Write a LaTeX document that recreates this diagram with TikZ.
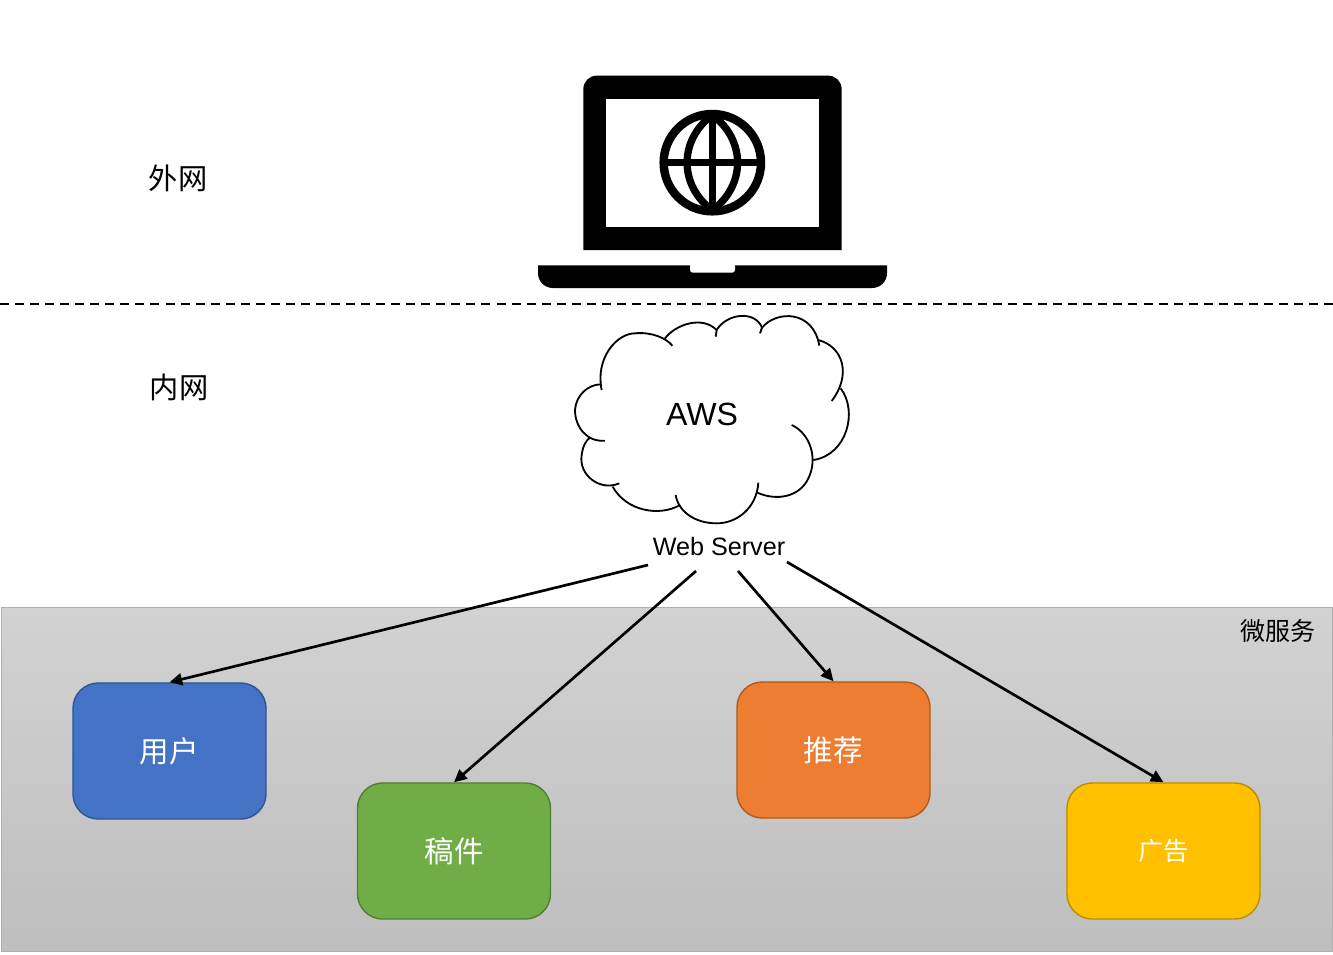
\documentclass[tikz,border=0pt]{standalone}
\usepackage{fontspec}
\usetikzlibrary{arrows.meta}
\setmainfont{Noto Sans CJK SC}
\newfontfamily\latinfont{Liberation Sans}
\tikzset{
  service/.style={draw, line width=1pt, rounded corners=18pt, minimum width=4.825cm, minimum height=3.4cm, text=white, font=\fontsize{21}{24}\selectfont},
  zone/.style={font=\fontsize{20.8}{24}\selectfont},
  link/.style={->, line width=1.9pt},
  puff/.style={line width=1.3pt}
}
\definecolor{userblue}{HTML}{4472C4}
\definecolor{userline}{HTML}{2F5597}
\definecolor{docgreen}{HTML}{70AD47}
\definecolor{docline}{HTML}{507E32}
\definecolor{recorange}{HTML}{ED7D31}
\definecolor{recline}{HTML}{AE5A21}
\definecolor{adyellow}{HTML}{FFC000}
\definecolor{adline}{HTML}{BC8C00}
\definecolor{bandtop}{HTML}{D2D2D2}
\definecolor{bandbottom}{HTML}{BEBEBE}
\definecolor{bandline}{HTML}{B0B0B0}
\begin{document}
\begin{tikzpicture}[>={Triangle[length=9pt,width=8.5pt]}, x=0.025cm, y=-0.025cm]
\useasboundingbox (0,0) rectangle (1333,954);

% band of services
\node[draw=bandline, line width=0.8pt, top color=bandtop, bottom color=bandbottom, minimum width=33.25cm, minimum height=8.6cm, outer sep=0pt] (band) at (667,779.5) {};
\node[font=\fontsize{17.8}{20}\selectfont, anchor=east] (micro) at (1320.5,631) {微服务};

\draw[dashed, line width=1pt, dash pattern=on 6.4pt off 4.3pt] (0,304) -- (1333,304);
\node[zone] (outer) at (178,178) {外网};
\node[zone] (inner) at (179,387) {内网};

% laptop
\begin{scope}[shift={(520,60)}, scale=1/3]
\fill (190,570) [rounded corners=9.5pt] -- (190,47) -- (965,47) [sharp corners] -- (965,570) -- cycle;
\fill[white] (259,116) rectangle (896,502);
\fill (54,616) [rounded corners=10.5pt] -- (54,684) -- (1101,684) [sharp corners] -- (1101,616) -- cycle;
\fill[white, rounded corners=2pt] (510,610) -- (510,638) -- (645,638) -- (645,610) -- cycle;
\draw[line width=6pt] (577,308) circle (146);
\draw[line width=5.2pt] (577,162) -- (577,454) (431,308) -- (723,308);
\draw[line width=5.2pt] (577,165) .. controls (476,240) and (476,376) .. (577,451);
\draw[line width=5.2pt] (577,165) .. controls (678,240) and (678,376) .. (577,451);
\end{scope}

% cloud
\begin{scope}[shift={(560,305)}, scale=1/3]
\draw[puff] (125,255) .. controls (105,160) and (170,85) .. (225,85) .. controls (275,80) and (320,100) .. (337,122);
\draw[puff] (315,100) .. controls (345,60) and (425,30) .. (470,75) (470,75) -- (467,95);
\draw[puff] (470,75) .. controls (500,25) and (585,15) .. (606,68) (606,68) -- (600,85);
\draw[puff] (606,68) .. controls (650,15) and (760,15) .. (778,122);
\draw[puff] (775,105) .. controls (850,125) and (875,210) .. (815,288);
\draw[puff] (842,250) .. controls (895,320) and (860,450) .. (760,465);
\draw[puff] (695,360) .. controls (750,385) and (775,460) .. (745,520) .. controls (720,575) and (650,590) .. (590,562);
\draw[puff] (595,533) .. controls (590,610) and (530,655) .. (470,655) .. controls (405,655) and (355,620) .. (347,570);
\draw[puff] (360,600) .. controls (300,635) and (200,620) .. (158,545);
\draw[puff] (178,535) .. controls (120,560) and (55,510) .. (65,450) .. controls (68,425) and (78,405) .. (90,398);
\draw[puff] (135,407) .. controls (80,412) and (45,365) .. (45,315) .. controls (48,270) and (85,238) .. (123,238);
\end{scope}
\node[font=\latinfont\fontsize{22.8}{26}\selectfont] (aws) at (702,414) {AWS};

\node[font=\latinfont\fontsize{17.9}{20}\selectfont] (server) at (719,546) {Web Server};
\coordinate (out1) at (648,565);
\coordinate (out2) at (696,571);
\coordinate (out3) at (738,571);
\coordinate (out4) at (787,562);

\node[service, fill=userblue, draw=userline] (user) at (169.5,751) {用户};
\node[service, fill=docgreen, draw=docline] (doc) at (454,851) {稿件};
\node[service, fill=recorange, draw=recline] (rec) at (833.5,750) {推荐};
\node[service, fill=adyellow, draw=adline, font=\fontsize{18}{22}\selectfont] (ad) at (1163.5,851) {广告};

\draw[link] (out1) -- (user.north);
\draw[link] (out2) -- (doc.north);
\draw[link] (out3) -- (rec.north);
\draw[link] (out4) -- (ad.north);

\end{tikzpicture}
\end{document}
